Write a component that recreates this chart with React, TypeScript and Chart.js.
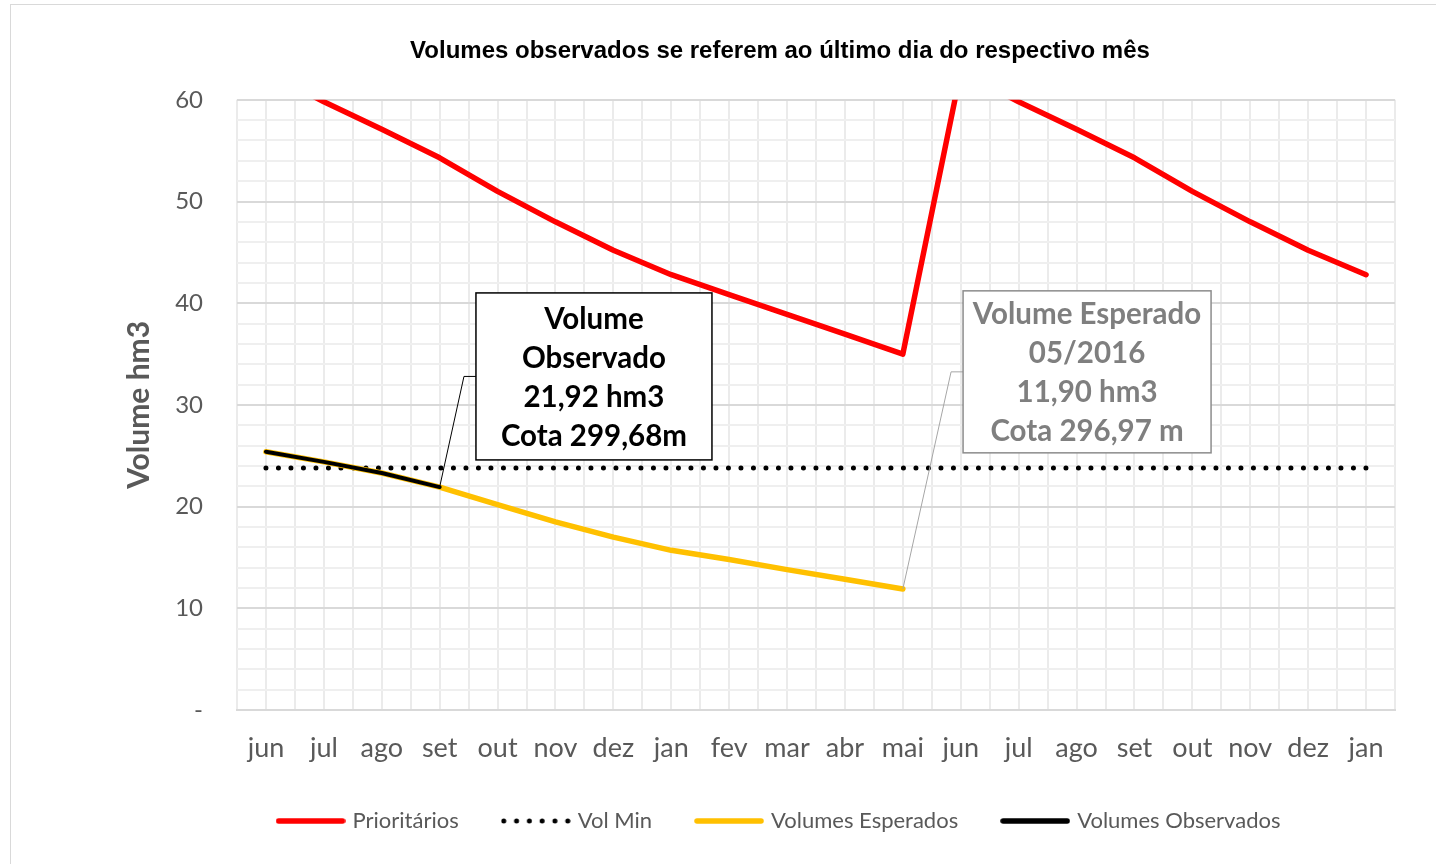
import React, { useEffect, useRef } from 'react';
import { Chart, registerables } from 'chart.js';

Chart.register(...registerables);

const months = ['jun', 'jul', 'ago', 'set', 'out', 'nov', 'dez', 'jan', 'fev', 'mar', 'abr', 'mai', 'jun', 'jul', 'ago', 'set', 'out', 'nov', 'dez', 'jan'];
const prioritarios = [62.8, 59.8, 57.1, 54.3, 51.0, 48.0, 45.2, 42.8, 40.85, 38.9, 36.95, 35.0, 62.8, 59.8, 57.1, 54.3, 51.0, 48.0, 45.2, 42.8];
const volMin = [23.8, 23.8, 23.8, 23.8, 23.8, 23.8, 23.8, 23.8, 23.8, 23.8, 23.8, 23.8, 23.8, 23.8, 23.8, 23.8, 23.8, 23.8, 23.8, 23.8];
const esperados = [25.4, 24.4, 23.3, 21.92, 20.2, 18.5, 17.0, 15.7, 14.8, 13.8, 12.85, 11.9, null, null, null, null, null, null, null, null];
const observados = [25.4, 24.4, 23.3, 21.92, null, null, null, null, null, null, null, null, null, null, null, null, null, null, null, null];
const yMajorTicks = [0, 10, 20, 30, 40, 50, 60];
const yTickLabels = ['-', '10', '20', '30', '40', '50', '60'];

const seriesNames = ['Prioritários', 'Vol Min', 'Volumes Esperados', 'Volumes Observados'];
const seriesColors = ['#ff0000', '#000000', '#ffc000', '#000000'];

const titleText = 'Volumes observados se referem ao último dia do respectivo mês';
const yTitle = 'Volume hm3';

const callouts = [
  {
    lines: ['Volume', 'Observado', '21,92 hm3', 'Cota 299,68m'],
    anchorIndex: 3,
    anchorSeries: observados,
    boxIndex: 3.627,
    boxValue: 32.8,
    w: 236,
    h: 167,
    text: '#000000',
    border: '#000000',
    leader: '#000000',
  },
  {
    lines: ['Volume Esperado', '05/2016', '11,90 hm3', 'Cota 296,97 m'],
    anchorIndex: 11,
    anchorSeries: esperados,
    boxIndex: 12.04,
    boxValue: 33.25,
    w: 248,
    h: 162,
    text: '#7f7f7f',
    border: '#8c8c8c',
    leader: '#a6a6a6',
  },
];

const FONT = 'Lato';

function makeSample(kind: 'line' | 'dots', color: string): HTMLCanvasElement {
  const c = document.createElement('canvas');
  c.width = 70;
  c.height = 8;
  const g = c.getContext('2d')!;
  if (kind === 'line') {
    g.strokeStyle = color;
    g.lineWidth = 5.5;
    g.lineCap = 'round';
    g.beginPath();
    g.moveTo(3, 4);
    g.lineTo(67, 4);
    g.stroke();
  } else {
    g.fillStyle = color;
    for (let k = 0; k < 6; k++) {
      g.beginPath();
      g.arc(3 + k * 12.8, 4, 2.5, 0, Math.PI * 2);
      g.fill();
    }
  }
  return c;
}

const calloutPlugin = {
  id: 'callouts',
  afterDatasetsDraw(chart: any) {
    const { ctx } = chart;
    const x = chart.scales.x;
    const y = chart.scales.y;
    callouts.forEach((c) => {
      const ax = x.getPixelForValue(c.anchorIndex);
      const ay = y.getPixelForValue(c.anchorSeries[c.anchorIndex] as number);
      const left = x.getPixelForValue(c.boxIndex);
      const cy = y.getPixelForValue(c.boxValue);
      const top = cy - c.h / 2;
      ctx.save();
      ctx.strokeStyle = c.leader;
      ctx.lineWidth = 1;
      ctx.beginPath();
      ctx.moveTo(ax, ay);
      ctx.lineTo(left - 12, cy);
      ctx.lineTo(left, cy);
      ctx.stroke();
      ctx.fillStyle = '#ffffff';
      ctx.fillRect(left, top, c.w, c.h);
      ctx.strokeStyle = c.border;
      ctx.lineWidth = 1.5;
      ctx.strokeRect(left, top, c.w, c.h);
      ctx.fillStyle = c.text;
      ctx.font = `bold 29.5px ${FONT}`;
      ctx.textAlign = 'center';
      ctx.textBaseline = 'middle';
      c.lines.forEach((t, i) => {
        ctx.fillText(t, left + c.w / 2, cy + (i - 1.5) * 39 + 1.5);
      });
      ctx.restore();
    });
  },
};

export default function App() {
  const ref = useRef<HTMLCanvasElement | null>(null);

  useEffect(() => {
    if (!ref.current) return;
    const samples = [
      makeSample('line', seriesColors[0]),
      makeSample('dots', seriesColors[1]),
      makeSample('line', seriesColors[2]),
      makeSample('line', seriesColors[3]),
    ];
    const toPts = (arr: (number | null)[]) => arr.map((v, i) => ({ x: i, y: v }));
    const baseLabels = (Chart as any).defaults.plugins.legend.labels.generateLabels;

    const chart = new Chart(ref.current, {
      type: 'line',
      data: {
        datasets: [
          {
            label: seriesNames[0],
            data: toPts(prioritarios),
            borderColor: seriesColors[0],
            backgroundColor: seriesColors[0],
            borderWidth: 5.5,
            pointRadius: 0,
            borderJoinStyle: 'round',
            borderCapStyle: 'round',
            clip: 0,
            order: 2,
          },
          {
            label: seriesNames[1],
            data: toPts(volMin),
            borderColor: seriesColors[1],
            backgroundColor: seriesColors[1],
            borderWidth: 5,
            borderDash: [0, 12.5],
            borderCapStyle: 'round',
            pointRadius: 0,
            clip: 0,
            order: 3,
          },
          {
            label: seriesNames[2],
            data: toPts(esperados),
            borderColor: seriesColors[2],
            backgroundColor: seriesColors[2],
            borderWidth: 5.5,
            pointRadius: 0,
            borderJoinStyle: 'round',
            borderCapStyle: 'round',
            clip: 0,
            order: 1,
          },
          {
            label: seriesNames[3],
            data: toPts(observados),
            borderColor: seriesColors[3],
            backgroundColor: seriesColors[3],
            borderWidth: 4,
            pointRadius: 0,
            borderJoinStyle: 'round',
            borderCapStyle: 'round',
            clip: 0,
            order: 0,
          },
        ],
      } as any,
      options: {
        responsive: false,
        animation: false,
        events: [],
        layout: { padding: 0 },
        scales: {
          x: {
            type: 'linear',
            min: -0.5,
            max: 19.5,
            ticks: {
              stepSize: 0.5,
              autoSkip: false,
              maxRotation: 0,
              padding: 22,
              color: '#595959',
              font: { family: FONT, size: 27 },
              callback: (v: any) => (Number.isInteger(v) && v >= 0 && v < months.length ? months[v] : ''),
            },
            grid: { color: '#ebebeb', lineWidth: 2, drawTicks: false },
            border: { display: true, color: '#d9d9d9', width: 2 },
            afterFit: (s: any) => {
              s.height = 54;
            },
          },
          y: {
            type: 'linear',
            min: 0,
            max: 60,
            ticks: {
              stepSize: 2,
              autoSkip: false,
              padding: 34,
              color: '#595959',
              font: { family: FONT, size: 24 },
              callback: (v: any) => {
                const k = yMajorTicks.indexOf(v);
                return k >= 0 ? yTickLabels[k] : '';
              },
            },
            grid: {
              color: (c: any) => (yMajorTicks.includes(c.tick.value) ? '#d9d9d9' : '#efefef'),
              lineWidth: 2,
              drawTicks: false,
            },
            border: { display: false },
            title: {
              display: true,
              text: yTitle,
              color: '#595959',
              font: { family: FONT, size: 30, weight: 'bold' },
              padding: { top: 110, bottom: 0 },
            },
            afterFit: (s: any) => {
              s.width = 226;
            },
          },
          yr: {
            type: 'linear',
            position: 'right',
            display: true,
            ticks: { display: false },
            grid: { display: false, drawTicks: false },
            border: { display: false },
            afterFit: (s: any) => {
              s.width = 154;
            },
          },
        },
        plugins: {
          title: {
            display: true,
            text: titleText,
            color: '#000000',
            font: { family: 'Liberation Sans', size: 24, weight: 'bold' },
            padding: { top: 32, bottom: 34 },
          },
          legend: {
            position: 'bottom',
            labels: {
              usePointStyle: true,
              pointStyleWidth: 62,
              padding: 46,
              color: '#595959',
              font: { family: FONT, size: 22 },
              sort: (a: any, b: any) => a.datasetIndex - b.datasetIndex,
              generateLabels: (ch: any) =>
                baseLabels(ch).map((it: any) => ({ ...it, pointStyle: samples[it.datasetIndex] })),
            },
          },
          tooltip: { enabled: false },
        },
      } as any,
      plugins: [calloutPlugin],
    });
    return () => chart.destroy();
  }, []);

  return (
    <div
      style={{
        position: 'fixed',
        left: 0,
        top: 0,
        width: 1436,
        height: 864,
        overflow: 'hidden',
        background: '#ffffff',
      }}
    >
      <div
        style={{
          position: 'absolute',
          left: 10,
          top: 4,
          width: 1600,
          height: 900,
          borderLeft: '1px solid #d9d9d9',
          borderTop: '1px solid #d9d9d9',
          background: '#ffffff',
        }}
      >
        <canvas ref={ref} width={1538} height={837} style={{ display: 'block', width: 1538, height: 837 }} />
      </div>
    </div>
  );
}
